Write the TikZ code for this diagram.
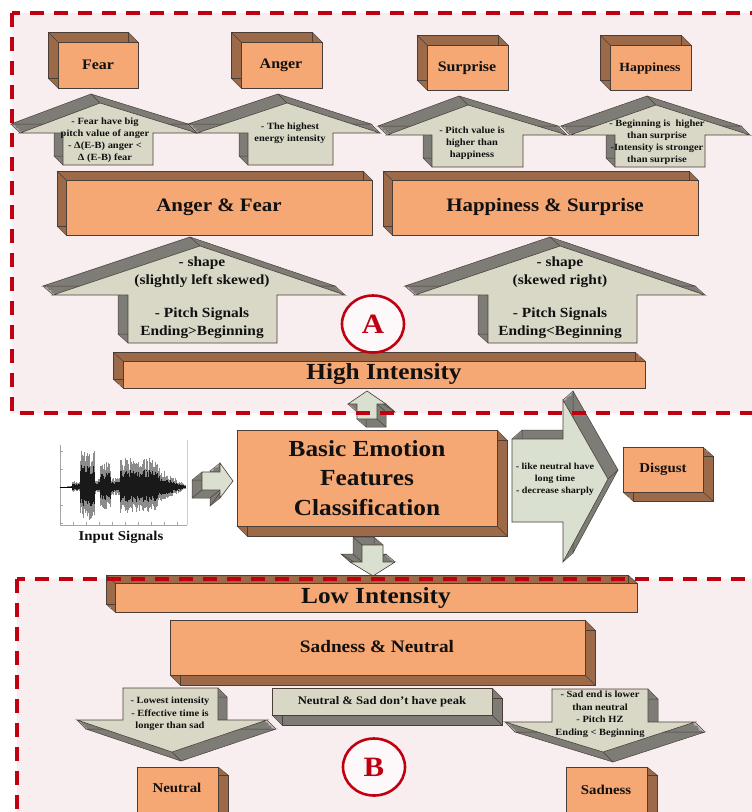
\documentclass[tikz,border=0pt]{standalone}
\usepackage{fontspec}
\setmainfont{Liberation Serif}[FakeStretch=1.1]
\usetikzlibrary{shapes.geometric}
\definecolor{cOrange}{HTML}{F5A774}
\definecolor{cBrown}{HTML}{9C6A49}
\definecolor{cGreyFace}{HTML}{D9D8C7}
\definecolor{cGreenFace}{HTML}{DAE0CF}
\definecolor{cGreySide}{HTML}{7D7C76}
\definecolor{cEdge}{HTML}{4A3F38}
\definecolor{cPink}{HTML}{F9EEEF}
\definecolor{cRed}{HTML}{C00010}
\definecolor{cInk}{HTML}{111111}
% extruded solid: #1 side style, #2 front style, #3/#4 extrusion offset, #5 outline x/y list
\newcommand\solid[5]{%
  \gdef\solidpath{}\gdef\solidsep{}%
  \foreach \px/\py in {#5}{\xdef\solidpath{\solidpath\solidsep(\px,\py)}\gdef\solidsep{--}}%
  \foreach \k in {1,...,12}{%
    \pgfmathsetmacro\sdx{\k*(#3)/12}\pgfmathsetmacro\sdy{\k*(#4)/12}%
    \fill[#1,shift={(\sdx,\sdy)}] \solidpath -- cycle;}%
  \draw[rim,shift={(#3,#4)}] \solidpath -- cycle;
  \foreach \px/\py in {#5}{\draw[rim] (\px,\py) -- ++(#3,#4);}%
  \filldraw[#2] \solidpath -- cycle;
}
\newcommand\fs[2]{\fontsize{#1}{#2}\selectfont\bfseries}
\begin{document}
\begin{tikzpicture}[x=1pt,y=-1pt,
  rim/.style={draw=cEdge,line width=0.5},
  sideO/.style={fill=cBrown},
  sideG/.style={fill=cGreySide},
  faceO/.style={fill=cOrange,draw=cEdge,line width=0.6},
  faceG/.style={fill=cGreyFace,draw=cEdge,line width=0.6},
  faceL/.style={fill=cGreenFace,draw=cEdge,line width=0.6},
  txt/.style={text=cInk,inner sep=0pt,align=center},
  regionfill/.style={fill=cPink},
  regionborder/.style={draw=cRed,line width=3.4,dash pattern=on 14pt off 10pt},
  tag/.style={ellipse,draw=cRed,line width=2.6,fill=cPink!40!white,text=cRed,
    minimum width=62pt,minimum height=57pt,inner sep=0pt,font=\fs{28}{28}}]
\useasboundingbox (0,0) rectangle (752,812);
\clip (0,0) rectangle (752,812);

% background regions
\fill[white] (0,0) rectangle (752,812);
\fill[regionfill] (12,13) rectangle (780,413);
\fill[regionfill] (17,579) rectangle (780,840);

% input speech waveform
\draw[gray!70,line width=0.5] (60,445) -- (60,525) -- (187,525);
\draw[gray!40,line width=0.5] (187,440) -- (187,525);
\foreach \ty in {451,469,487,505,523} \draw[gray!70,line width=0.4] (60,\ty) -- (63,\ty);
\foreach \tx in {73,86,99,112,125,138,151,164,177} \draw[gray!70,line width=0.4] (\tx,525) -- (\tx,522);
\pgfmathsetseed{11}
\foreach \wx in {67,67.6,...,185.8} {
  \pgfmathsetmacro\env{(\wx<72)*1 + (\wx>=72)*(\wx<80)*6 + (\wx>=80)*(\wx<95)*38 + (\wx>=95)*(\wx<100)*8 + (\wx>=100)*(\wx<111)*25 + (\wx>=111)*(\wx<120)*10 + (\wx>=120)*(\wx<158)*29 + (\wx>=158)*max(2,20-(\wx-158)*0.65)}
  \pgfmathsetmacro\up{\env*(0.55+0.45*rnd)}
  \pgfmathsetmacro\dn{\env*(0.5+0.4*rnd)}
  \draw[black!45,line width=0.8] (\wx,487-\up) -- (\wx,487+\dn);
  \draw[black!90,line width=0.8] (\wx,487-0.6*\up) -- (\wx,487+0.6*\dn);
}
\draw[black,line width=0.6] (60,487) -- (72,487);

% single emotions
\solid{sideO}{faceO}{-10}{-10}{58/42,138/42,138/88,58/88}
\solid{sideO}{faceO}{-10}{-10}{241/42,322/42,322/88,241/88}
\solid{sideO}{faceO}{-10}{-10}{427/45,508/45,508/90,427/90}
\solid{sideO}{faceO}{-10}{-10}{610/45,691/45,691/90,610/90}

% small up arrows
\solid{sideG}{faceG}{-9}{-9}{63/165,63/133,20/133,100/103,197/133,153/133,153/165}
\solid{sideG}{faceG}{-9}{-9}{248/165,248/133,197/133,287/103,380/133,333/133,333/165}
\solid{sideG}{faceG}{-9}{-9}{432/167,432/135,387/135,468/105,567/135,523/135,523/167}
\solid{sideG}{faceG}{-9}{-9}{615/167,615/135,570/135,656/105,750/135,705/135,705/167}

% paired emotions
\solid{sideO}{faceO}{-9}{-9}{66/180,372/180,372/235,66/235}
\solid{sideO}{faceO}{-9}{-9}{392/180,698/180,698/235,392/235}

% large up arrows
\solid{sideG}{faceG}{-10}{-9}{128/343,128/295,53/295,200/246,345/295,277/295,277/343}
\solid{sideG}{faceG}{-10}{-9}{488/343,488/295,415/295,560/246,705/295,637/295,637/343}

% high intensity bar
\solid{sideO}{faceO}{-10}{-9}{123/361,645/361,645/388,123/388}

% central classifier and its links
\solid{sideG}{faceL}{9}{8}{357/419,357/404,348/404,367/391,386/404,377/404,377/419}
\solid{sideO}{faceO}{10}{10}{237/430,497/430,497/526,237/526}
\solid{sideG}{faceL}{-10}{8}{202/472,220/472,220/463,233/481,220/498,220/490,202/490}
\solid{sideG}{faceL}{10}{-9}{512/439,563/439,563/400,608/479,563/562,563/522,512/522}
\solid{sideO}{faceO}{10}{9}{623/447,703/447,703/492,623/492}
\solid{sideG}{faceL}{-9}{-8}{362/545,383/545,383/562,395/562,373/576,350/562,362/562}

% low intensity branch
\solid{sideO}{faceO}{-9}{-8}{115/583,637/583,637/612,115/612}
\solid{sideO}{faceO}{10}{10}{170/620,585/620,585/675,170/675}
\solid{sideG}{faceG}{10}{10}{272/688,492/688,492/715,272/715}
\solid{sideG}{faceG}{9}{9}{123/688,218/688,218/720,267/720,172/752,77/720,123/720}
\solid{sideG}{faceG}{10}{10}{552/689,648/689,648/722,695/722,603/752,505/722,552/722}
\solid{sideO}{faceO}{10}{8}{137/767,218/767,218/830,137/830}
\solid{sideO}{faceO}{10}{8}{566/767,647/767,647/830,566/830}

% labels
\node[txt,font=\fs{14.5}{16}] (fear) at (98,65) {Fear};
\node[txt,font=\fs{14.5}{16}] (anger) at (281,65) {Anger};
\node[txt,font=\fs{14.5}{16}] (surprise) at (467,68) {Surprise};
\node[txt,font=\fs{12.5}{14}] (happiness) at (650,68) {Happiness};

\node[txt,font=\fs{9.5}{12}] (fearnote) at (105,140) {- Fear have big\\pitch value of anger\\- Δ(E-B) anger <\\Δ (E-B) fear};
\node[txt,font=\fs{9.5}{12}] (angernote) at (290,133) {- The highest\\energy intensity};
\node[txt,font=\fs{9.5}{12}] (surprisenote) at (472,143) {- Pitch value is\\higher than\\happiness};
\node[txt,font=\fs{9.5}{12}] (happinessnote) at (657,142) {- Beginning is\ \ higher\\than surprise\\-Intensity is stronger\\than surprise};

\node[txt,font=\fs{19}{21}] (angerfear) at (219,207) {Anger \& Fear};
\node[txt,font=\fs{19}{21}] (happysurprise) at (545,207) {Happiness \& Surprise};

\node[txt,font=\fs{14}{17.5}] (leftshape) at (202,272) {- shape\\(slightly left skewed)};
\node[txt,font=\fs{14}{17.5}] (leftpitch) at (202,323) {- Pitch Signals\\Ending>Beginning};
\node[txt,font=\fs{14}{17.5}] (rightshape) at (560,272) {- shape\\(skewed right)};
\node[txt,font=\fs{14}{17.5}] (rightpitch) at (560,323) {- Pitch Signals\\Ending<Beginning};

\node[tag] (tagA) at (373,324) {A};
\node[txt,font=\fs{23}{25}] (high) at (384,374) {High Intensity};

\node[txt,font=\fs{23}{29.5}] (basic) at (367,478) {Basic Emotion\\Features\\Classification};
\node[txt,font=\fs{13.5}{15}] (input) at (121,537) {Input Signals};
\node[txt,font=\fs{9.2}{12}] (disgustnote) at (555,479) {- like neutral have\\long time\\- decrease sharply};
\node[txt,font=\fs{13.5}{15}] (disgust) at (663,469) {Disgust};

\node[txt,font=\fs{23}{25}] (low) at (376,598) {Low Intensity};
\node[txt,font=\fs{17.5}{19}] (sadneutral) at (377,647) {Sadness \& Neutral};
\node[txt,font=\fs{11.5}{13}] (nopeak) at (382,702) {Neutral \& Sad don’t have peak};
\node[txt,font=\fs{9.5}{12.5}] (neutralnote) at (170,714) {- Lowest intensity\\- Effective time is\\longer than sad};
\node[txt,font=\fs{9.5}{12.5}] (sadnote) at (600,714) {- Sad end is lower\\than neutral\\- Pitch HZ\\Ending < Beginning};
\node[tag] (tagB) at (374,767) {B};
\node[txt,font=\fs{13.5}{15}] (neutral) at (177,788) {Neutral};
\node[txt,font=\fs{13.5}{15}] (sadness) at (606,790) {Sadness};

% dashed region borders
\draw[regionborder] (12,13) rectangle (780,413);
\draw[regionborder] (17,579) rectangle (780,840);
\end{tikzpicture}
\end{document}
